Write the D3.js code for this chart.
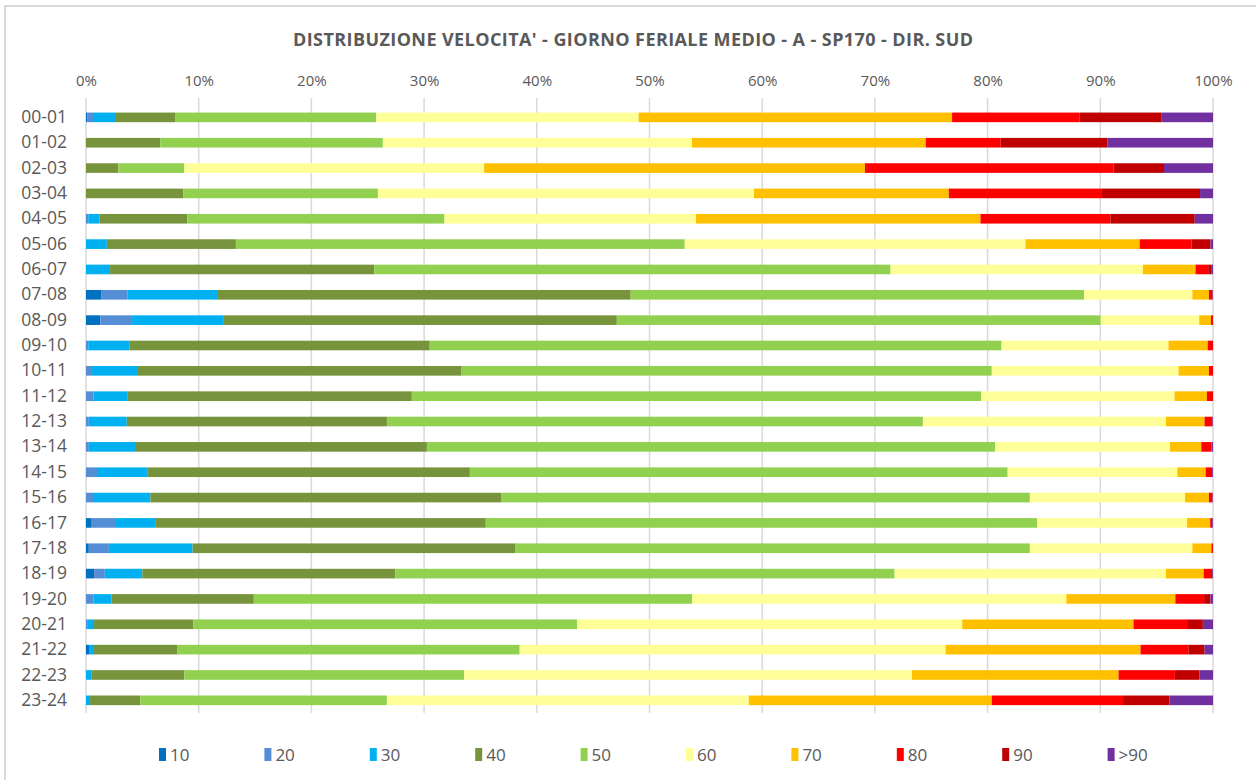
<!DOCTYPE html>
<html>
<head>
<meta charset="utf-8">
<script src="https://cdn.jsdelivr.net/npm/d3@7"></script>
<style>
  html, body { margin: 0; padding: 0; background: #fff; }
  svg { display: block; }
  text { font-family: "Open Sans", "Liberation Sans", sans-serif; fill: #595959; }
</style>
</head>
<body>
<div id="chart"></div>
<script>
// fasce orarie
var hours = ['00-01','01-02','02-03','03-04','04-05','05-06','06-07','07-08','08-09','09-10','10-11','11-12',
             '12-13','13-14','14-15','15-16','16-17','17-18','18-19','19-20','20-21','21-22','22-23','23-24'];
var classes = ['10','20','30','40','50','60','70','80','90','>90'];
var ticks = [0, 0.1, 0.2, 0.3, 0.4, 0.5, 0.6, 0.7, 0.8, 0.9, 1];

// quota percentuale per classe di velocita (km/h)
var s10   = [0.1,0,0,0,0,0,0,1.34,1.27,0,0,0,0,0,0,0,0.51,0.25,0.72,0,0,0.33,0,0];
var s20   = [0.52,0,0,0,0.2,0,0,2.36,2.82,0.2,0.54,0.65,0.25,0.25,0.98,0.62,2.06,1.78,0.95,0.65,0.1,0,0,0];
var s30   = [1.95,0,0,0,1.0,1.85,2.14,7.93,8.08,3.68,3.99,3.01,3.37,4.1,4.45,5.1,3.63,7.43,3.33,1.63,0.52,0.29,0.51,0.36];
var s40   = [5.33,6.59,2.86,8.62,7.79,11.45,23.44,36.7,34.93,26.62,28.8,25.25,23.08,25.9,28.63,31.16,29.27,28.66,22.46,12.61,8.91,7.46,8.22,4.46];
var s50   = [17.86,19.75,5.87,17.28,22.82,39.83,45.81,40.24,42.94,50.74,47.04,50.53,47.56,50.41,47.72,46.87,48.93,45.63,44.29,38.88,34.06,30.4,24.82,21.88];
var s60   = [23.27,27.43,26.6,33.37,22.32,30.23,22.39,9.6,8.74,14.81,16.57,17.15,21.57,15.53,15.06,13.77,13.3,14.42,24.08,33.22,34.16,37.8,39.74,32.11];
var s70   = [27.82,20.74,33.79,17.29,25.24,10.13,4.67,1.47,1.04,3.48,2.7,2.87,3.42,2.77,2.51,2.12,2.05,1.69,3.34,9.67,15.2,17.29,18.33,21.56];
var s80   = [11.29,6.65,22.07,13.59,11.53,4.61,1.12,0.29,0.18,0.47,0.36,0.54,0.7,0.9,0.58,0.32,0.18,0.14,0.76,2.55,4.75,4.24,5.0,11.65];
var s90   = [7.26,9.49,4.46,8.7,7.48,1.68,0.32,0.04,0,0,0,0,0,0,0,0,0,0,0,0.57,1.4,1.44,2.19,4.1];
var sOver = [4.6,9.35,4.35,1.15,1.62,0.22,0.11,0.03,0,0,0,0,0.05,0.14,0.07,0.04,0.07,0,0.07,0.22,0.9,0.75,1.19,3.88];

var colors = ['#0070C0','#558ED5','#00B0F0','#77933C','#92D050','#FFFF99','#FFC000','#FF0000','#C00000','#7030A0'];

var series = [s10, s20, s30, s40, s50, s60, s70, s80, s90, sOver];
var rows = hours.map(function(h, i) {
  var r = { hour: h };
  classes.forEach(function(c, j) { r[c] = series[j][i]; });
  return r;
});

var W = 1256, H = 780;
var svg = d3.select('#chart').append('svg').attr('width', W).attr('height', H);

// cornice area grafico
svg.append('rect')
  .attr('x', 5).attr('y', 6).attr('width', W + 10).attr('height', H + 10)
  .attr('fill', 'none').attr('stroke', '#d9d9d9').attr('stroke-width', 2);

var x = d3.scaleLinear().domain([0, 1]).range([86, 1213]);
var y = d3.scaleBand().domain(hours).range([104.7, 713]).paddingInner(0.62).paddingOuter(0.31);

svg.append('text')
  .attr('x', 633).attr('y', 46)
  .attr('text-anchor', 'middle')
  .attr('textLength', 680).attr('lengthAdjust', 'spacing')
  .style('font-size', '18px').style('font-weight', 'bold')
  .text("DISTRIBUZIONE VELOCITA' - GIORNO FERIALE MEDIO - A - SP170 - DIR. SUD");

// griglia verticale
svg.append('g').selectAll('line').data(ticks).enter().append('line')
  .attr('x1', function(d) { return x(d); }).attr('x2', function(d) { return x(d); })
  .attr('y1', 98).attr('y2', 713)
  .attr('stroke', '#d9d9d9').attr('stroke-width', 1.5);

var xAxis = svg.append('g').attr('transform', 'translate(0,87)')
  .call(d3.axisTop(x).tickValues(ticks).tickFormat(d3.format('.0%')).tickSize(0).tickPadding(0));
xAxis.select('.domain').remove();
xAxis.selectAll('text').style('font-size', '15px').style('fill', '#595959').attr('dy', '-0.1em');

var yAxis = svg.append('g').attr('transform', 'translate(67,0)')
  .call(d3.axisLeft(y).tickSize(0).tickPadding(0));
yAxis.select('.domain').remove();
yAxis.selectAll('text').style('font-size', '17.5px').style('fill', '#595959');

var stack = d3.stack().keys(classes).offset(d3.stackOffsetExpand);
var layers = stack(rows);

svg.append('g').selectAll('g').data(layers).enter().append('g')
  .attr('fill', function(d, i) { return colors[i]; })
  .selectAll('rect').data(function(d) { return d; }).enter().append('rect')
    .attr('x', function(d) { return x(d[0]); })
    .attr('y', function(d) { return y(d.data.hour); })
    .attr('width', function(d) { return Math.max(0, x(d[1]) - x(d[0])); })
    .attr('height', y.bandwidth());

// legenda
var leg = svg.append('g').selectAll('g').data(classes).enter().append('g')
  .attr('transform', function(d, i) { return 'translate(' + (159 + i * 105.4) + ',748)'; });
leg.append('rect').attr('width', 7).attr('height', 13)
  .attr('fill', function(d, i) { return colors[i]; });
leg.append('text').attr('x', 11).attr('y', 13).style('font-size', '17px').text(function(d) { return d; });
</script>
</body>
</html>
